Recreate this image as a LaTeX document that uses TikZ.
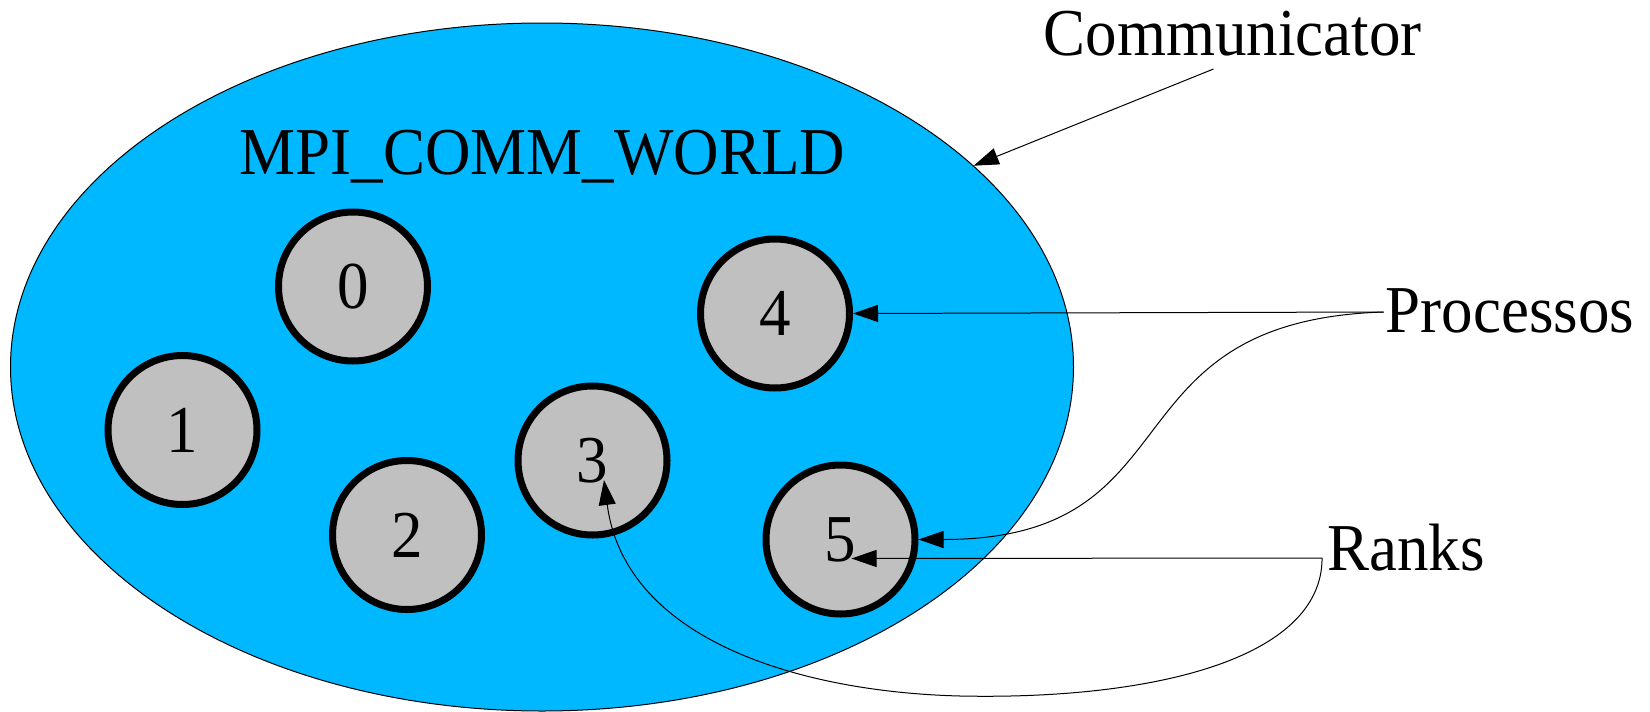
\documentclass[tikz,border=0pt]{standalone}
\usepackage{fontspec}
\setmainfont[FakeStretch=0.94]{Liberation Serif}
\usetikzlibrary{shapes.geometric,arrows.meta}
\definecolor{commblue}{HTML}{00B8FF}
\definecolor{rankgray}{HTML}{C0C0C0}
\tikzset{
	rank/.style={circle,draw,line width=7pt,fill=rankgray,minimum size=149pt,inner sep=0pt},
	pointer/.style={draw,line width=1pt,-{Triangle[length=25pt,width=17pt]}},
	caption/.style={anchor=base,inner sep=0pt}
}
\begin{document}
\begin{tikzpicture}[x=1pt,y=-1pt,font=\fontsize{67pt}{80pt}\selectfont]
	\useasboundingbox (0,0) rectangle (1650,712);
	\node[ellipse,draw,fill=commblue,line width=1pt,minimum width=1063pt,minimum height=688pt,inner sep=0pt] (world) at (542,367) {};
	\node[caption] (title) at (542.5,174) {MPI\_COMM\_WORLD};
	\node[caption] (comm) at (1232.5,55) {Communicator};
	\node[caption] (procs) at (1510,332) {Processos};
	\node[caption] (ranks) at (1406,570) {Ranks};
	\node[rank] (r0) at (353,286.5) {0};
	\node[rank] (r1) at (182.5,430) {1};
	\node[rank] (r2) at (407,535) {2};
	\node[rank] (r3) at (592.5,460.5) {3};
	\node[rank] (r4) at (775,313.5) {4};
	\node[rank] (r5) at (840.5,539.5) {5};
	\draw[pointer] ([xshift=-19pt,yshift=-14pt]comm.base) -- (world.25.9);
	\draw[pointer] ([xshift=-2pt,yshift=20pt]procs.base west) -- (r4.east);
	\draw[pointer] ([xshift=-2pt,yshift=20pt]procs.base west) .. controls +(-283,9) and +(282,0) .. (r5.east);
	\draw[pointer] ([xshift=-5pt,yshift=12pt]ranks.base west) -- ([xshift=11pt,yshift=-19pt]r5.center);
	\draw[pointer] ([xshift=-5pt,yshift=12pt]ranks.base west) .. controls +(0,102) and (1150,700) .. (960,696)
		.. controls (800,692) and (625,640) .. ([xshift=11.5pt,yshift=-19.5pt]r3.center);
\end{tikzpicture}
\end{document}
